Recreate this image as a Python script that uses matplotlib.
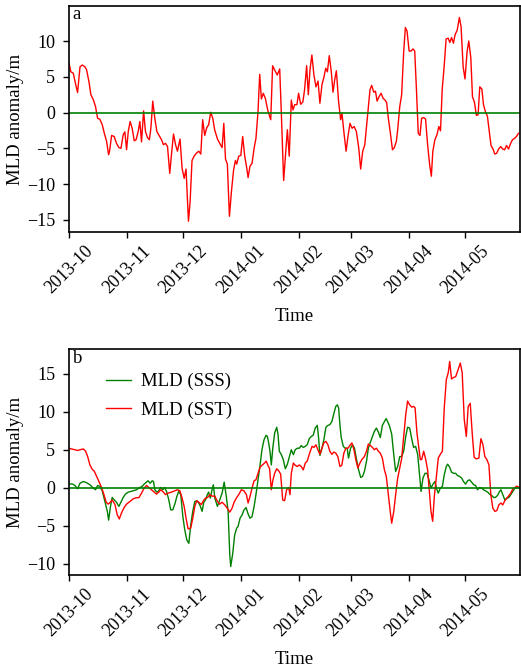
import pandas as pd
import matplotlib.pyplot as plt
import matplotlib.dates as mdates

# (day since 2013-10-01, MLD anomaly in m)
mld_a = [(0, 6.9), (1, 5.7), (2.3, 5.5), (3.6, 3.9), (4.6, 2.8), (5.9, 6.4), (7.1, 6.65), (8.5, 6.4),
         (9.4, 6.0), (10.7, 4.3), (11.7, 2.5), (13, 1.8), (14.2, 0.84), (15.3, -0.8), (16.5, -0.93),
         (17.8, -1.7), (18.9, -2.9), (20.1, -4.0), (21.2, -5.9), (21.7, -5.4), (22.8, -3.2), (24.2, -3.35),
         (25.4, -4.3), (26.7, -4.9), (27.8, -5.0), (29, -3.1), (29.9, -2.7), (30.8, -5.2), (31.7, -2.65),
         (32.7, -1.25), (33.8, -2.2), (34.9, -3.95), (35.9, -3.8), (37, -2.65), (37.9, -1.25), (38.8, -4.1),
         (39.9, 0.23), (40.9, -2.65), (42, -3.5), (43, -3.8), (43.8, -2.2), (44.8, 1.6), (45.9, -0.8),
         (47, -2.65), (48, -3.1), (49.5, -3.8), (50.5, -4.5), (51.6, -4.3), (52.7, -4.75), (53.9, -8.5),
         (54.8, -5.9), (55.9, -3.0), (57, -4.5), (58, -5.4), (59.4, -3.7), (60.5, -7.8), (61.6, -9.2),
         (62.6, -7.9), (63.9, -15.2), (64.8, -12.4), (65.8, -6.7), (66.9, -6.1), (68.1, -5.7), (69.4, -5.4),
         (70.5, -5.8), (71.5, -1.0), (72.6, -3.2), (73.7, -2.1), (74.7, -1.7), (75.8, 0.05), (76.9, -0.8),
         (77.9, -2.4), (79.4, -3.7), (80.6, -4.3), (81.9, -4.9), (82.8, -1.5), (83.7, -6.5), (84.7, -7.2),
         (85.8, -14.5), (86.9, -11.0), (88, -8.1), (89, -6.7), (89.7, -7.2), (90.8, -6.1), (91.9, -6.0),
         (92.9, -3.35), (94, -6.1), (95.1, -7.8), (95.8, -9.1), (96.8, -7.5), (97.9, -7.1), (99, -5.0),
         (100, -3.6), (101.1, 0.14), (102, 5.35), (102.9, 1.9), (103.9, 2.7), (105, 2.0), (106.4, 0.23),
         (107.9, -1.0), (108.9, 6.55), (110, 5.95), (111.4, 5.25), (112.7, 6.1), (113.6, -0.3), (114.8, -9.5),
         (115.9, -5.7), (116.8, -2.4), (117.8, -6.1), (118.9, 1.75), (119.8, 0.37), (120.7, 1.1), (121.9, 1.1),
         (122.8, 2.7), (123.9, 1.16), (125.1, 1.5), (126, 3.2), (127.1, 6.55), (128, 2.5), (128.9, 6.0),
         (129.9, 8.05), (131, 5.25), (132.1, 3.6), (133.2, 4.4), (134.2, 1.3), (135.3, 3.9), (136.4, 5.0),
         (137.3, 6.2), (138.2, 5.7), (139.2, 7.95), (140.3, 5.7), (141.2, 2.85), (142.1, 4.55), (143, 5.85),
         (144.2, 1.5), (145.3, -1.0), (146, -0.1), (147.1, -2.9), (148.2, -5.4), (149.2, -3.35), (150.3, -1.5),
         (151.4, -2.2), (152.5, -1.95), (153.7, -2.65), (155, -5.0), (156, -7.9), (157.1, -5.4), (158.2, -4.5),
         (159.3, -1.5), (160.2, 1.0), (161, 3.2), (161.9, 3.8), (163, 2.85), (163.9, 3.0), (164.8, 1.6),
         (165.8, 2.2), (166.9, 2.7), (168, 2.0), (169, 1.75), (169.9, 1.4), (170.8, -0.8), (171.9, -2.9),
         (173, -5.2), (174, -4.9), (175.1, -4.0), (175.8, -2.4), (176.9, 0.84), (177.9, 2.45), (179, 8.5),
         (179.9, 11.9), (180.8, 11.4), (181.9, 8.6), (182.9, 8.6), (184, 8.9), (184.9, 8.6), (185.8, 3.4),
         (186.8, -2.9), (187.7, -3.2), (188.6, -0.8), (189.7, -0.7), (190.7, -0.9), (191.8, -4.5), (192.9, -7.3),
         (193.8, -8.9), (194.6, -5.4), (195.7, -3.8), (196.8, -3.1), (197.8, -1.95), (198.7, -2.55), (199.6, 3.2),
         (200.7, 6.65), (201.7, 10.3), (202.8, 10.4), (203.7, 9.8), (204.6, 10.5), (205.6, 9.7), (206.5, 10.9),
         (207.6, 11.5), (208.8, 13.3), (209.7, 12.0), (210.8, 6.4), (211.8, 4.7), (212.9, 8.5), (213.8, 10.0),
         (214.9, 7.7), (215.8, 2.2), (216.8, 1.5), (217.9, -0.4), (218.8, -0.3), (219.7, 3.6), (220.8, 3.3),
         (221.7, 1.1), (222.7, 0.14), (223.8, -0.55), (224.8, -2.65), (225.7, -4.6), (226.8, -5.1), (227.7, -5.8),
         (228.7, -5.7), (229.8, -5.1), (230.9, -4.75), (231.9, -5.1), (233, -5.2), (234, -4.6), (235.1, -5.1),
         (236.2, -4.3), (237.2, -3.8), (238.3, -3.6), (239.3, -3.35), (240.4, -2.9)]

mld_sst = [(0, 5.2), (1.4, 5.1), (3.2, 5.0), (4.6, 4.9), (5.9, 5.0), (7.7, 5.1), (8.9, 4.8), (10, 4.1),
           (11.2, 3.0), (12.5, 2.4), (13.5, 2.2), (14.8, 1.5), (16, 0.83), (17.4, 0.04), (18.7, -0.9),
           (19.9, -1.9), (21, -2.15), (22.1, -1.9), (23.1, -1.6), (24.6, -2.2), (25.8, -3.55), (26.9, -4.1),
           (28.1, -3.3), (29.5, -2.6), (30.8, -2.15), (32.6, -1.8), (34.3, -1.45), (36.1, -1.3), (37.4, -1.3),
           (38.8, -0.7), (40.2, -0.04), (41.5, 0.3), (42.7, 0.04), (44.1, -0.26), (45.6, -0.57), (46.8, -0.83),
           (48, -0.57), (49.1, -0.26), (50.5, -0.57), (51.6, -0.9), (53, -0.7), (54.8, -0.57), (56.6, -0.4),
           (58, -0.26), (59.3, -0.4), (60.5, -1.36), (61.6, -2.45), (62.6, -4.0), (63.7, -5.4), (65.1, -5.3),
           (66.2, -4.0), (67.3, -2.45), (68.3, -1.7), (69.4, -1.9), (70.8, -2.2), (71.9, -1.7), (73, -1.36),
           (74, -1.3), (75.4, -0.9), (76.5, -1.1), (78, -1.1), (79.4, -1.8), (80.6, -2.15), (81.9, -1.9),
           (83.3, -2.25), (84.7, -2.7), (86, -3.2), (87.2, -2.7), (88.3, -1.9), (89.5, -1.36), (90.8, -0.9),
           (92.2, -0.26), (93.6, -0.4), (94.9, -0.9), (95.8, -2.0), (96.8, -1.15), (97.9, -0.04), (99, 0.92),
           (100, 1.05), (101.1, 1.9), (102.2, 2.7), (103.2, 2.95), (104.6, 3.25), (105.5, 3.5), (106.4, 2.95),
           (107.3, 2.5), (108.2, -0.26), (109.1, 1.05), (110, 1.9), (111.1, 2.5), (112.1, 2.25), (113.2, 1.8),
           (114.3, -1.6), (115.3, -1.7), (116.4, -0.26), (117.5, 0.04), (118.2, -0.9), (118.9, 1.9), (120, 3.25),
           (121, 2.95), (122.1, 2.8), (123.2, 3.0), (124.2, 2.8), (125.3, 2.35), (126.4, 3.25), (127.4, 3.5),
           (128.7, 4.55), (130, 5.45), (131, 5.3), (132.1, 5.65), (133.1, 5.0), (134.2, 4.4), (135.3, 5.2),
           (136.3, 5.9), (137.4, 6.1), (138.5, 5.65), (139.5, 4.8), (140.6, 4.4), (141.7, 4.7), (142.7, 4.55),
           (143.8, 4.1), (144.9, 2.8), (145.9, 2.95), (147, 4.55), (148.1, 5.2), (149.2, 5.2), (150.2, 5.55),
           (151.3, 5.9), (152.4, 5.0), (153.4, 3.7), (154.5, 2.6), (155.6, 3.25), (156.6, 3.7), (158, 4.1),
           (159.1, 4.8), (160.1, 5.75), (161.2, 5.55), (162.3, 5.3), (163.3, 5.0), (164.4, 5.2), (165.5, 4.8),
           (166.5, 4.55), (167.6, 3.9), (168.7, 2.35), (169.7, 1.5), (170.8, -0.9), (171.9, -3.3), (172.6, -4.65),
           (173.7, -3.1), (174.7, -0.9), (175.8, 1.27), (176.9, 2.6), (177.9, 3.8), (179, 6.75), (180.1, 9.6),
           (181.1, 11.4), (182.2, 10.9), (183.3, 10.6), (184.3, 10.7), (185.1, 10.5), (186.1, 7.2), (187.2, 5.0),
           (187.9, 3.7), (188.6, 3.7), (189.7, 4.8), (190.8, 3.7), (191.8, 2.35), (192.9, -0.9), (193.6, -3.1),
           (194.5, -4.4), (195.4, -1.15), (196.4, 1.27), (197.5, 3.9), (198.6, 4.4), (199.7, 4.8), (200.7, 10.5),
           (201.8, 14.2), (202.9, 15.2), (203.6, 16.6), (204.6, 14.3), (205.7, 14.5), (206.8, 14.6), (207.8, 15.3),
           (209.3, 16.4), (210.3, 15.1), (211.4, 8.95), (212.5, 6.75), (213.5, 10.7), (214.6, 11.1), (215.7, 7.0),
           (216.7, 4.0), (217.8, 3.8), (219.2, 3.9), (220.3, 6.45), (221.4, 5.65), (222.4, 4.1), (223.5, 3.7),
           (224.6, 3.0), (225.6, -0.9), (226.7, -2.7), (227.8, -3.1), (228.8, -3.0), (229.9, -2.25), (231, -2.0),
           (232, -2.25), (233.1, -1.7), (234.2, -1.36), (235.3, -1.0), (236.3, -0.7), (237.4, -0.13), (238.5, 0.04),
           (239.5, 0.22), (240.8, 0.04)]

mld_sss = [(0, 0.5), (1.8, 0.5), (3.2, 0.3), (4.6, -0.13), (5.9, 0.6), (7.7, 0.83), (9.4, 0.66), (11.2, 0.4),
           (13, -0.04), (14.2, -0.26), (15.3, 0.3), (16.5, 0.18), (17.8, -0.4), (19.2, -1.8), (20.5, -3.1),
           (21.2, -4.25), (22.2, -2.45), (23.1, -1.27), (24.2, -1.6), (25.4, -1.9), (26.7, -2.45), (27.8, -1.9),
           (29, -1.27), (30.2, -0.83), (31.7, -0.57), (33.1, -0.48), (34.3, -0.4), (36.1, -0.26), (37.9, 0.04),
           (39.1, 0.18), (40.2, 0.48), (41.5, 0.75), (42.3, 0.92), (43.4, 0.6), (44.5, 0.92), (45.2, 0.83),
           (45.9, -0.26), (47, -0.57), (48, -0.4), (49.1, 0.04), (50.2, -0.26), (51.2, 0.04), (52.3, -0.57),
           (53.4, -1.6), (54.4, -2.9), (55.5, -2.9), (56.6, -2.15), (57.7, -1.15), (58.7, -0.48), (59.8, -0.9),
           (60.9, -3.8), (61.9, -5.5), (63, -6.85), (64.1, -7.3), (65.1, -4.9), (66.2, -3.1), (67.3, -1.8),
           (68.3, -1.7), (69.4, -2.0), (70.3, -2.45), (71.2, -3.1), (72.1, -1.9), (73, -1.6), (74, -0.9),
           (74.7, -0.57), (75.6, -1.36), (76.5, -0.26), (77.2, 0.4), (78, -1.36), (79.4, -2.45), (80.6, -1.6),
           (81.9, -0.7), (83, 0.75), (84, -0.9), (85.1, -3.1), (86, -8.8), (86.5, -10.35), (87.6, -8.6),
           (88.6, -6.2), (89.7, -5.3), (90.4, -5.1), (91.5, -4.0), (92.6, -3.55), (93.6, -2.9), (94.7, -2.6),
           (95.8, -3.45), (96.8, -4.0), (97.9, -3.8), (99, -2.45), (100, -0.9), (101.1, 1.05), (102.2, 3.0),
           (103.2, 5.0), (104.3, 6.3), (105.4, 6.9), (106.1, 6.75), (106.8, 5.9), (107.5, 4.8), (108.2, 3.0),
           (109, 5.2), (110, 7.2), (111.1, 7.95), (111.8, 7.0), (112.5, 4.8), (113.6, 4.35), (114.6, 3.7),
           (115.7, 2.5), (116.8, 3.1), (117.8, 4.0), (118.9, 5.0), (120, 4.35), (121, 5.0), (122.1, 5.2),
           (123.2, 5.2), (124.2, 5.55), (125.3, 5.3), (126.4, 5.45), (127.4, 5.65), (128.5, 6.45), (129.6, 6.75),
           (130.6, 6.9), (131.7, 7.85), (132.8, 8.2), (133.5, 6.55), (134.2, 4.25), (135.3, 5.2), (136.3, 6.3),
           (137.4, 7.95), (138.5, 8.2), (139.5, 8.3), (140.6, 8.7), (141.7, 9.8), (142.7, 10.7), (143.5, 10.9),
           (144.2, 10.5), (144.9, 8.3), (145.6, 6.6), (146.7, 5.45), (147.7, 5.2), (148.8, 5.2), (149.5, 3.9),
           (150.6, 5.2), (151.7, 5.65), (152.7, 5.2), (153.8, 3.7), (154.9, 2.35), (156, 1.36), (157, 1.5),
           (158, 2.15), (159.1, 3.45), (160.1, 5.2), (161.2, 6.0), (162.3, 6.75), (163.3, 7.4), (164.4, 7.85),
           (165.5, 7.3), (166.5, 6.6), (167.6, 8.2), (168.7, 8.7), (169.6, 9.1), (170.5, 8.65), (171.5, 8.05),
           (172.6, 7.05), (173.7, 4.35), (174.7, 2.15), (175.8, 2.8), (176.9, 4.1), (177.9, 4.1), (179, 4.8),
           (180.1, 6.75), (181.1, 7.95), (182.2, 7.85), (183.3, 6.45), (184.3, 5.3), (185.4, 5.45), (186.5, 4.35),
           (187.5, 1.6), (188.3, -0.48), (189.3, 1.27), (190.4, 1.9), (191.5, 1.9), (192.5, 1.05), (193.6, -0.04),
           (194.7, 0.48), (195.7, 0.83), (196.8, -0.26), (197.5, -0.7), (198.6, -0.04), (199.7, 0.18), (200.7, 1.7),
           (201.8, 2.8), (202.5, 3.1), (203.6, 2.7), (204.6, 2.05), (205.7, 1.9), (206.8, 1.9), (207.8, 1.6),
           (208.9, 1.5), (210, 1.27), (211, 0.83), (212.1, 0.48), (213.2, 0.92), (214.2, 1.05), (215.3, 0.75),
           (216.4, 0.4), (217.5, 0.3), (218.5, -0.26), (219.6, 0.04), (220.7, -0.04), (221.7, -0.26), (222.8, -0.4),
           (223.9, -0.57), (224.9, -0.83), (226, -1.0), (227.1, -1.27), (228.1, -1.27), (229.2, -1.0), (230.3, -0.48),
           (231, -0.26), (232, -0.9), (233.1, -1.6), (234.2, -1.36), (235.3, -1.27), (236.3, -0.9), (237.4, -0.48),
           (238.5, -0.04), (239.5, 0.04), (240.8, -0.04)]

start = pd.Timestamp("2013-10-01")


def to_frame(pairs):
    df = pd.DataFrame(pairs, columns=["day", "mld"])
    df["time"] = start + pd.to_timedelta(df["day"], unit="D")
    return df


a = to_frame(mld_a)
sst = to_frame(mld_sst)
sss = to_frame(mld_sss)

plt.rcParams["font.family"] = ["Liberation Serif", "DejaVu Serif"]
plt.rcParams["font.size"] = 13
plt.rcParams["axes.linewidth"] = 1.2

fig = plt.figure(figsize=(5.21, 6.68), dpi=100)
ax1 = fig.add_axes([0.1324, 0.6527, 0.866, 0.3383])
ax2 = fig.add_axes([0.1324, 0.1388, 0.866, 0.3383])

# Panel a
ax1.plot(a["time"], a["mld"], color="red", lw=1.0)
ax1.axhline(0, color="green", lw=1.2)
ax1.set_ylim(-16.7, 14.9)
ax1.set_yticks([-15, -10, -5, 0, 5, 10])
ax1.text(0.008, 0.998, "a", transform=ax1.transAxes, ha="left", va="top", fontsize=13.5)

# Panel b
ax2.plot(sss["time"], sss["mld"], color="green", lw=1.0, label="MLD (SSS)")
ax2.plot(sst["time"], sst["mld"], color="red", lw=1.0, label="MLD (SST)")
ax2.axhline(0, color="green", lw=1.2)
ax2.set_ylim(-11.5, 18.2)
ax2.set_yticks([-10, -5, 0, 5, 10, 15])
ax2.text(0.008, 0.998, "b", transform=ax2.transAxes, ha="left", va="top", fontsize=13.5)
ax2.legend(loc="upper left", bbox_to_anchor=(0.045, 0.97), frameon=False,
           fontsize=13.5, handlelength=1.35, handletextpad=0.5, labelspacing=0.6)

for ax in (ax1, ax2):
    ax.set_xlim(start, start + pd.Timedelta(days=241.3))
    ax.xaxis.set_major_locator(mdates.MonthLocator())
    ax.xaxis.set_major_formatter(mdates.DateFormatter("%Y-%m"))
    ax.tick_params(axis="both", direction="out", length=4, width=1, labelsize=13)
    ax.tick_params(axis="y", pad=6)
    plt.setp(ax.get_xticklabels(), rotation=45, ha="center")
    ax.set_xlabel("Time", fontsize=13.5, labelpad=8)
    ax.set_ylabel("MLD anomaly/m", fontsize=13.5, labelpad=2)

fig.savefig("out.png", dpi=100)
